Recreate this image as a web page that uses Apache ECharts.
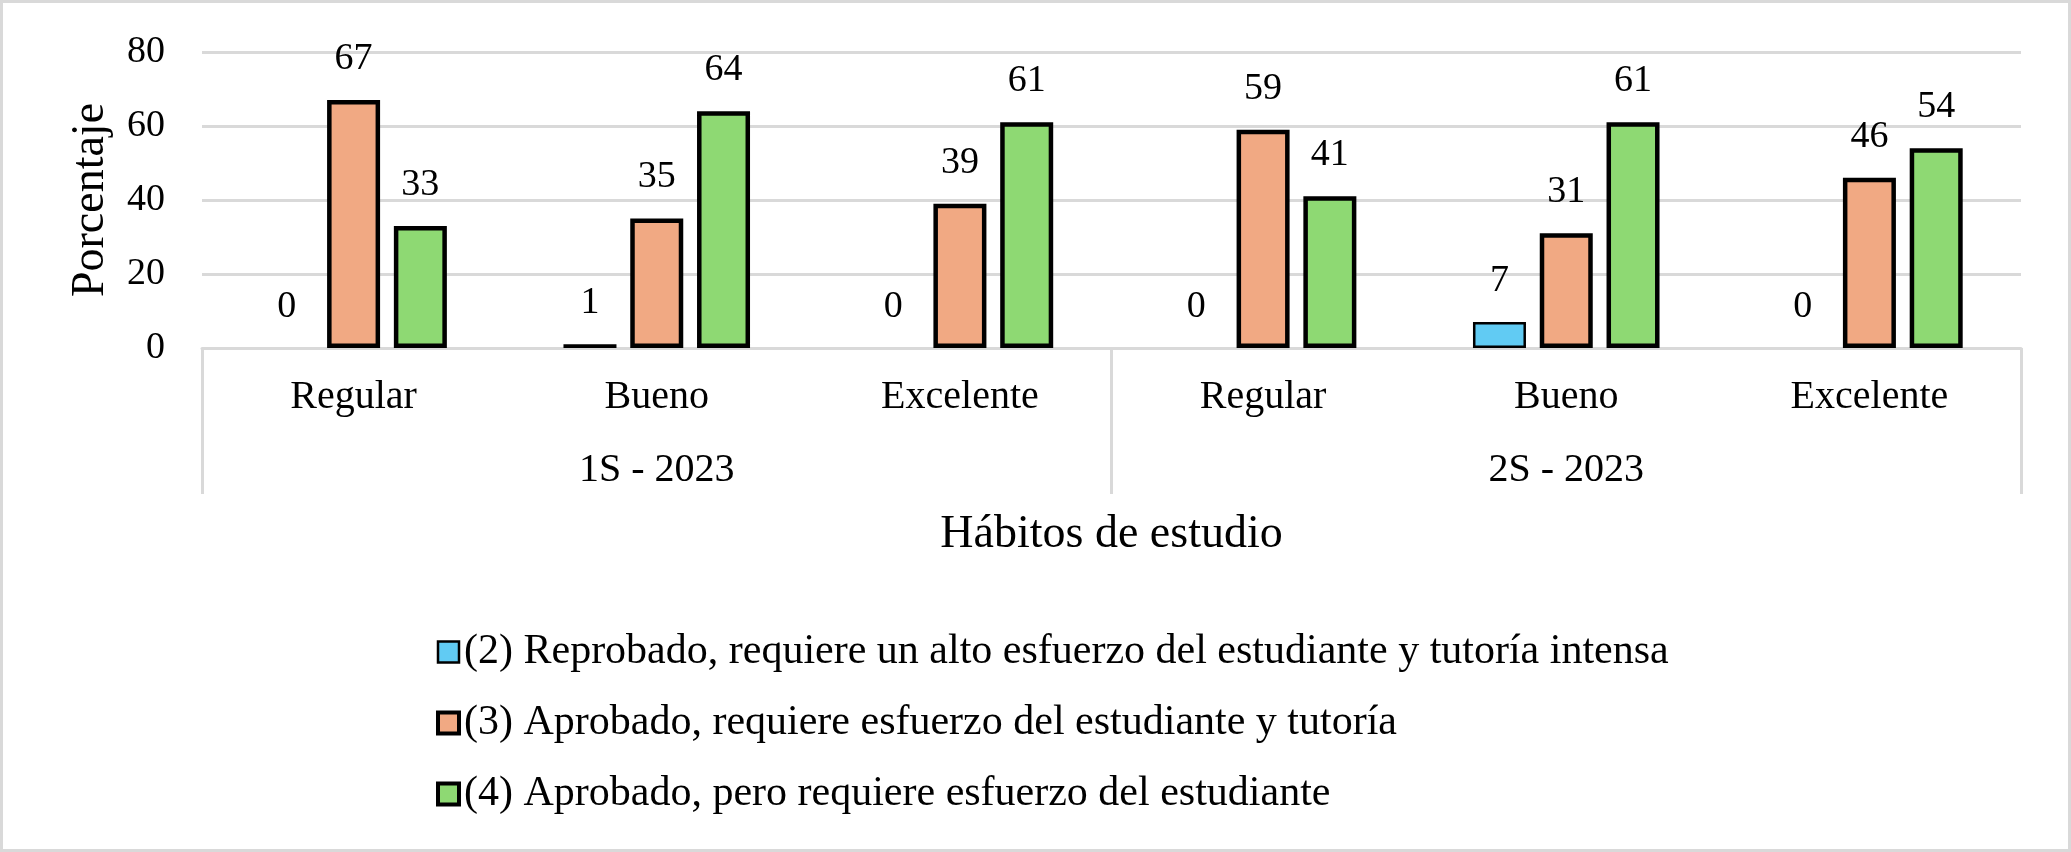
<!DOCTYPE html>
<html>
<head>
<meta charset="utf-8">
<script src="https://cdn.jsdelivr.net/npm/echarts@6/dist/echarts.min.js"></script>
<style>
  html, body { margin: 0; padding: 0; background: #fff; }
  #chart { width: 2071px; height: 852px; }
</style>
</head>
<body>
<div id="chart"></div>
<script>
var habitos = ['Regular', 'Bueno', 'Excelente', 'Regular', 'Bueno', 'Excelente'];
var semestres = ['1S - 2023', '2S - 2023'];
var yTicks = [0, 20, 40, 60, 80];

var nombres = [
    '(2) Reprobado, requiere un alto esfuerzo del estudiante y tutoría intensa',
    '(3) Aprobado, requiere esfuerzo del estudiante y tutoría',
    '(4) Aprobado, pero requiere esfuerzo del estudiante'
];
var reprobado = [0, 1, 0, 0, 7, 0];
var aprobadoEsfuerzo = [67, 35, 39, 59, 31, 46];
var aprobadoPero = [33, 64, 61, 41, 61, 54];

var colores = ['#61CBF3', '#F1A983', '#8ED973'];
var bordes = [2.5, 4.5, 4.5];
var fuente = 'Liberation Serif, Times New Roman, serif';

// barras en cero: sin borde, solo la etiqueta
function sinBordeCero(arr) {
    return arr.map(function (v) {
        return v === 0 ? { value: v, itemStyle: { borderWidth: 0 } } : v;
    });
}

function serie(i, datos) {
    return {
        name: nombres[i],
        type: 'bar',
        xAxisIndex: 0,
        data: sinBordeCero(datos),
        barWidth: 53,
        barGap: '26%',
        itemStyle: { color: colores[i], borderColor: '#000', borderWidth: bordes[i] },
        label: {
            show: true,
            position: 'top',
            distance: 22,
            color: '#000',
            fontFamily: fuente,
            fontSize: 38
        }
    };
}

var chart = echarts.init(document.getElementById('chart'));
var option = {
    backgroundColor: '#fff',
    animation: false,
    textStyle: { fontFamily: fuente, color: '#000' },
    graphic: [{
        type: 'rect',
        shape: { x: 1.5, y: 1.5, width: 2068, height: 849 },
        style: { fill: 'none', stroke: '#D9D9D9', lineWidth: 3 },
        silent: true
    }],
    grid: { left: 202, right: 50, top: 52, bottom: 852 - 348 },
    legend: {
        orient: 'vertical',
        left: 431,
        top: 626,
        icon: 'rect',
        itemWidth: 21,
        itemHeight: 21,
        itemGap: 29,
        textStyle: { fontFamily: fuente, fontSize: 42, color: '#000' },
        data: nombres.map(function (n, i) {
            return { name: n, itemStyle: { borderColor: '#000', borderWidth: i === 0 ? 2.5 : 4 } };
        })
    },
    xAxis: [{
        type: 'category',
        data: habitos,
        axisLine: { lineStyle: { color: '#D9D9D9', width: 3 } },
        axisTick: { show: false },
        axisLabel: { margin: 29, color: '#000', fontFamily: fuente, fontSize: 40, interval: 0 }
    }, {
        type: 'category',
        data: semestres,
        position: 'bottom',
        axisLine: { show: false },
        axisTick: { show: true, length: 146, lineStyle: { color: '#D9D9D9', width: 3 } },
        axisLabel: { margin: 102, color: '#000', fontFamily: fuente, fontSize: 40 },
        name: 'Hábitos de estudio',
        nameLocation: 'middle',
        nameGap: 164,
        nameTextStyle: { color: '#000', fontFamily: fuente, fontSize: 46 }
    }],
    yAxis: {
        type: 'value',
        min: yTicks[0],
        max: yTicks[yTicks.length - 1],
        interval: 20,
        name: 'Porcentaje',
        nameLocation: 'middle',
        nameGap: 88,
        nameTextStyle: { color: '#000', fontFamily: fuente, fontSize: 46 },
        axisLine: { show: false },
        axisTick: { show: false },
        axisLabel: { margin: 37, color: '#000', fontFamily: fuente, fontSize: 38 },
        splitLine: { lineStyle: { color: '#D9D9D9', width: 3 } }
    },
    series: [
        serie(0, reprobado),
        serie(1, aprobadoEsfuerzo),
        serie(2, aprobadoPero)
    ]
};
chart.setOption(option);
</script>
</body>
</html>
